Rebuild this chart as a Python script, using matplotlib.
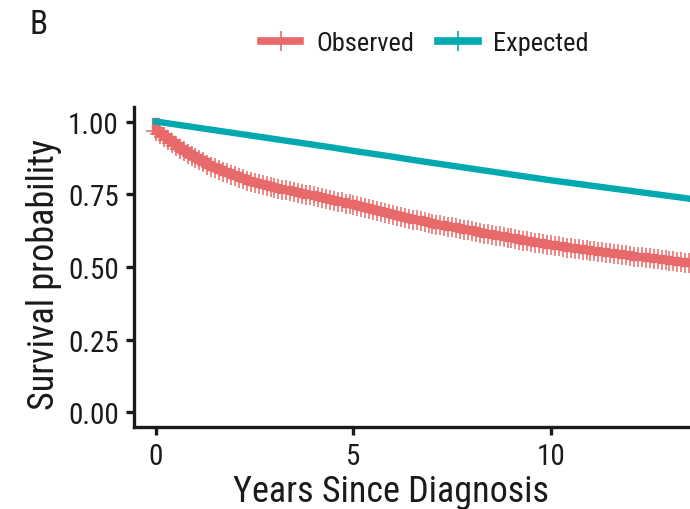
import matplotlib
matplotlib.use("Agg")
import matplotlib.pyplot as plt
from matplotlib.lines import Line2D

plt.rcParams['font.family'] = ['Roboto Condensed', 'Liberation Sans Narrow', 'DejaVu Sans']
plt.rcParams['font.stretch'] = 'condensed'

# Observed (Kaplan-Meier) survival, with censoring marks at each listed time
obs_time = [0.0, 0.1, 0.2, 0.3, 0.4, 0.5, 0.6, 0.7, 0.8, 0.9,
            1.0, 1.1, 1.2, 1.3, 1.4, 1.5, 1.6, 1.7, 1.8, 1.9,
            2.0, 2.1, 2.2, 2.3, 2.4, 2.5, 2.6, 2.7, 2.8, 2.9,
            3.0, 3.1, 3.2, 3.3, 3.4, 3.5, 3.6, 3.7, 3.8, 3.9,
            4.0, 4.1, 4.2, 4.3, 4.4, 4.5, 4.6, 4.7, 4.8, 4.9,
            5.0, 5.1, 5.2, 5.3, 5.4, 5.5, 5.6, 5.7, 5.8, 5.9,
            6.0, 6.1, 6.2, 6.3, 6.4, 6.5, 6.6, 6.7, 6.8, 6.9,
            7.0, 7.1, 7.2, 7.3, 7.4, 7.5, 7.6, 7.7, 7.8, 7.9,
            8.0, 8.1, 8.2, 8.3, 8.4, 8.5, 8.6, 8.7, 8.8, 8.9,
            9.0, 9.1, 9.2, 9.3, 9.4, 9.5, 9.6, 9.7, 9.8, 9.9,
            10.0, 10.1, 10.2, 10.3, 10.4, 10.5, 10.6, 10.7, 10.8, 10.9,
            11.0, 11.1, 11.2, 11.3, 11.4, 11.5, 11.6, 11.7, 11.8, 11.9,
            12.0, 12.1, 12.2, 12.3, 12.4, 12.5, 12.6, 12.7, 12.8, 12.9,
            13.0, 13.1, 13.2, 13.3, 13.4, 13.5, 13.6]
obs_surv = [0.967, 0.956, 0.946, 0.936, 0.926, 0.917, 0.906, 0.898, 0.890, 0.883,
            0.875, 0.867, 0.860, 0.852, 0.845, 0.839, 0.833, 0.827, 0.822, 0.817,
            0.812, 0.807, 0.802, 0.797, 0.793, 0.788, 0.785, 0.781, 0.778, 0.775,
            0.772, 0.769, 0.766, 0.763, 0.760, 0.757, 0.755, 0.752, 0.749, 0.747,
            0.744, 0.741, 0.738, 0.734, 0.731, 0.728, 0.725, 0.722, 0.718, 0.715,
            0.712, 0.709, 0.705, 0.702, 0.698, 0.695, 0.692, 0.688, 0.685, 0.681,
            0.678, 0.675, 0.672, 0.669, 0.666, 0.663, 0.660, 0.657, 0.655, 0.652,
            0.649, 0.646, 0.644, 0.641, 0.639, 0.636, 0.633, 0.631, 0.628, 0.626,
            0.623, 0.620, 0.618, 0.615, 0.613, 0.610, 0.608, 0.605, 0.603, 0.600,
            0.598, 0.596, 0.593, 0.591, 0.588, 0.586, 0.584, 0.582, 0.579, 0.577,
            0.575, 0.573, 0.571, 0.569, 0.567, 0.565, 0.563, 0.561, 0.560, 0.558,
            0.556, 0.554, 0.552, 0.551, 0.549, 0.547, 0.545, 0.543, 0.542, 0.540,
            0.538, 0.536, 0.535, 0.533, 0.532, 0.530, 0.528, 0.526, 0.525, 0.523,
            0.521, 0.519, 0.518, 0.516, 0.515, 0.513, 0.511]

# Expected survival of the matched general population
exp_time = [0.0, 0.5, 1.0, 1.5, 2.0, 2.5, 3.0, 3.5, 4.0, 4.5, 5.0, 5.5, 6.0, 6.5,
            7.0, 7.5, 8.0, 8.5, 9.0, 9.5, 10.0, 10.5, 11.0, 11.5, 12.0, 12.5,
            13.0, 13.5, 14.0]
exp_surv = [1.000, 0.990, 0.980, 0.970, 0.960, 0.950, 0.940, 0.930, 0.920, 0.910,
            0.899, 0.889, 0.879, 0.868, 0.858, 0.848, 0.838, 0.828, 0.818, 0.808,
            0.798, 0.789, 0.780, 0.771, 0.762, 0.753, 0.744, 0.735, 0.726]

x_ticks = [0, 5, 10]
y_ticks = [0.00, 0.25, 0.50, 0.75, 1.00]
y_tick_labels = ["0.00", "0.25", "0.50", "0.75", "1.00"]

RED = "#E8696A"
TEAL = "#00A9B0"
INK = "#1a1a1a"

fig = plt.figure(figsize=(6.9, 5.1), dpi=100)
ax = fig.add_axes([134 / 690, 1 - 428 / 510, 1 - 134 / 690, (428 - 108) / 510])

# Step curve begins at 1 at time zero
ax.step([0.0] + obs_time, [1.0] + obs_surv, where="post", color=RED, lw=6.0,
        solid_joinstyle="miter", zorder=3)
ax.plot(obs_time, obs_surv, ls="none", marker="+", ms=14, mew=1.4,
        color=RED, alpha=0.8, zorder=3)
ax.plot(exp_time, exp_surv, color=TEAL, lw=4.6, zorder=4)

ax.set_xlim(-0.557, 13.52)
ax.set_ylim(-0.05, 1.05)
ax.set_xticks(x_ticks)
ax.set_xticklabels([str(v) for v in x_ticks])
ax.set_yticks(y_ticks)
ax.set_yticklabels(y_tick_labels)

for side in ("top", "right"):
    ax.spines[side].set_visible(False)
for side in ("left", "bottom"):
    ax.spines[side].set_linewidth(2.4)
    ax.spines[side].set_color(INK)
ax.tick_params(axis="both", direction="out", length=6, width=2.4, color=INK,
               labelsize=21, labelcolor=INK, pad=5)

ax.set_xlabel("Years Since Diagnosis", fontsize=26, color=INK, labelpad=2)
ax.set_ylabel("Survival probability", fontsize=26, color=INK, labelpad=4)
ax.xaxis.label.set_x(0.462)
ax.yaxis.label.set_y(0.48)

fig.text(30 / 690, 1 - 9 / 510, "B", fontsize=24, color=INK, ha="left", va="top")

handles = [
    Line2D([], [], color=RED, lw=5.5, marker="+", ms=14, mew=1.2),
    Line2D([], [], color=TEAL, lw=5.5, marker="+", ms=14, mew=1.2),
]
fig.legend(handles, ["Observed", "Expected"], loc="center", ncol=2,
           bbox_to_anchor=(425 / 690, 1 - 44 / 510), frameon=False,
           fontsize=19, handlelength=1.5, handletextpad=0.6, columnspacing=0.9,
           labelcolor=INK)

fig.savefig("out.png", dpi=100)
